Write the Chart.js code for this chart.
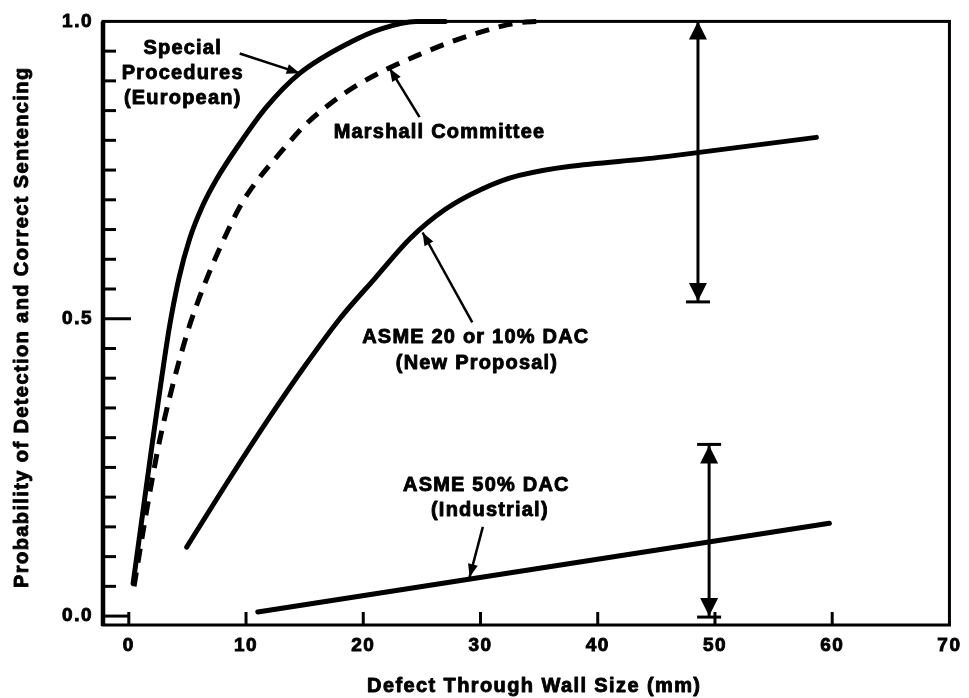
<!DOCTYPE html>
<html>
<head>
<meta charset="utf-8">
<script src="https://cdn.jsdelivr.net/npm/chart.js@4.4.1/dist/chart.umd.min.js"></script>
<style>
  html, body { margin: 0; padding: 0; background: #fff; }
  canvas { display: block; }
</style>
</head>
<body>
<canvas id="chart" width="969" height="698"></canvas>
<script>
(() => {
    'use strict';

    // ── Data (x = defect size in mm, y = probability) ──

    const europeanX = [0.37, 1.2, 2.0, 2.8, 3.5, 4.3, 5.2, 6.3, 7.5, 9.3, 11.7, 14.6, 18.9, 21.6, 24.5, 27.0];
    const europeanY = [0.055, 0.175, 0.29, 0.40, 0.49, 0.57, 0.635, 0.69, 0.735, 0.79, 0.855, 0.913, 0.965, 0.988, 1.0, 1.0];

    const marshallX = [0.45, 1.2, 1.93, 2.64, 3.64, 5.06, 6.05, 7.19, 8.33, 9.46, 10.6, 12.87, 15.0, 17.4, 19.5, 22.25, 25.0, 27.4, 30.0, 33.0, 35.0];
    const marshallY = [0.05, 0.14, 0.223, 0.296, 0.38, 0.481, 0.537, 0.593, 0.643, 0.688, 0.723, 0.778, 0.825, 0.865, 0.893, 0.922, 0.946, 0.965, 0.982, 0.997, 1.0];

    const proposalX = [4.94, 8.5, 12.0, 15.0, 18.0, 21.0, 24.0, 27.0, 30.0, 33.3, 46.0, 58.65];
    const proposalY = [0.116, 0.228, 0.334, 0.42, 0.50, 0.568, 0.635, 0.684, 0.717, 0.741, 0.773, 0.805];

    const industrialX = [11.0, 59.76];
    const industrialY = [0.007, 0.156];

    const xTicks = [0, 10, 20, 30, 40, 50, 60, 70];
    const yMajorTicks = [0.0, 0.5, 1.0];
    const yMinorTicks = [0.05, 0.1, 0.15, 0.2, 0.25, 0.3, 0.35, 0.4, 0.45,
        0.55, 0.6, 0.65, 0.7, 0.75, 0.8, 0.85, 0.9, 0.95];

    // Scatter bands (double arrows) near 50 mm.
    const bandX = [48.55, 49.5];
    const bandLow = [0.53, 0.0];
    const bandHigh = [1.0, 0.287];

    // ── Annotations (data units) ──────────────────────────────────────────────

    const labels = [
        { text: 'Special', x: 4.6, y: 0.955 },
        { text: 'Procedures', x: 4.6, y: 0.913 },
        { text: '(European)', x: 4.6, y: 0.871 },
        { text: 'Marshall Committee', x: 26.5, y: 0.813 },
        { text: 'ASME 20 or 10% DAC', x: 29.6, y: 0.469 },
        { text: '(New Proposal)', x: 29.7, y: 0.425 },
        { text: 'ASME 50% DAC', x: 30.5, y: 0.22 },
        { text: '(Industrial)', x: 30.8, y: 0.178 },
    ];

    const pointers = [
        { from: [9.46, 0.946], to: [14.58, 0.913] },
        { from: [24.8, 0.839], to: [22.25, 0.921] },
        { from: [29.3, 0.494], to: [25.06, 0.645] },
        { from: [30.2, 0.150], to: [29.07, 0.0655] },
    ];

    const X_TITLE = 'Defect Through Wall Size (mm)';
    const Y_TITLE = 'Probability of Detection and Correct Sentencing';

    const FONT = '"Liberation Sans", Arial, Helvetica, sans-serif';

    const zip = (xs, ys) => xs.map((x, i) => ({ x, y: ys[i] }));

    const lineSet = (label, xs, ys, extra = {}) => ({
        label,
        data: zip(xs, ys),
        showLine: true,
        borderColor: '#000',
        borderWidth: 5,
        pointRadius: 0,
        fill: false,
        cubicInterpolationMode: 'monotone',
        borderCapStyle: 'round',
        clip: 8,
        ...extra,
    });

    // ── Drawing helpers ───────────────────────────────────────────────────────

    const seg = (ctx, x1, y1, x2, y2) => {
        ctx.beginPath();
        ctx.moveTo(x1, y1);
        ctx.lineTo(x2, y2);
        ctx.stroke();
    };

    const head = (ctx, tx, ty, fx, fy, len, half) => {
        const a = Math.atan2(ty - fy, tx - fx);
        const bx = tx - len * Math.cos(a), by = ty - len * Math.sin(a);
        ctx.beginPath();
        ctx.moveTo(tx, ty);
        ctx.lineTo(bx + half * Math.sin(a), by - half * Math.cos(a));
        ctx.lineTo(bx - half * Math.sin(a), by + half * Math.cos(a));
        ctx.closePath();
        ctx.fill();
    };

    // Bold text with a thin outline, to match the heavy print of the scan.
    const heavyText = (ctx, text, x, y) => {
        ctx.fillText(text, x, y);
        ctx.strokeText(text, x, y);
    };

    const overlay = {
        id: 'overlay',
        beforeDraw(chart) {
            chart.ctx.letterSpacing = '1.5px';
        },
        afterDatasetsDraw(chart) {
            const { ctx, chartArea: a, scales: { x, y } } = chart;
            const px = v => x.getPixelForValue(v);
            const py = v => y.getPixelForValue(v);

            ctx.save();
            ctx.strokeStyle = '#000';
            ctx.fillStyle = '#000';
            ctx.lineCap = 'butt';

            // frame
            ctx.lineWidth = 3;
            ctx.strokeRect(a.left, a.top, a.right - a.left, a.bottom - a.top);
            ctx.lineWidth = 4.5;
            seg(ctx, a.left, a.top, a.left, a.bottom + 1);

            // inward ticks
            ctx.lineWidth = 3;
            yMinorTicks.forEach(v => seg(ctx, a.left, py(v), a.left + 13, py(v)));
            seg(ctx, a.left, py(0.5), a.left + 28, py(0.5));
            seg(ctx, a.left, py(0), px(0), py(0));
            xTicks.filter(v => v < 70).forEach(v => seg(ctx, px(v), a.bottom, px(v), a.bottom - 13));

            // double arrows with end bars
            bandX.forEach((bx, i) => {
                const X = px(bx), lo = py(bandLow[i]), hi = py(bandHigh[i]);
                ctx.lineWidth = 3;
                seg(ctx, X, lo, X, hi);
                head(ctx, X, hi, X, lo, 18, 9);
                head(ctx, X, lo, X, hi, 18, 9);
                seg(ctx, X - 12, lo + 1, X + 12, lo + 1);
                if (bandHigh[i] < 1) seg(ctx, X - 12, hi - 1, X + 12, hi - 1);
            });

            // pointer arrows
            ctx.lineWidth = 2.5;
            pointers.forEach(p => {
                const fx = px(p.from[0]), fy = py(p.from[1]);
                const tx = px(p.to[0]), ty = py(p.to[1]);
                seg(ctx, fx, fy, tx, ty);
                head(ctx, tx, ty, fx, fy, 13, 5);
            });

            // curve labels
            ctx.lineWidth = 0.9;
            ctx.lineJoin = 'round';
            ctx.letterSpacing = '1.2px';
            ctx.font = `bold 20px ${FONT}`;
            ctx.textAlign = 'center';
            ctx.textBaseline = 'middle';
            labels.forEach(l => heavyText(ctx, l.text, px(l.x), py(l.y)));

            // axis titles
            ctx.letterSpacing = '1.4px';
            heavyText(ctx, X_TITLE, (a.left + a.right) / 2 + 8, chart.height - 12);
            ctx.translate(22, (a.top + a.bottom) / 2 + 4);
            ctx.rotate(-Math.PI / 2);
            heavyText(ctx, Y_TITLE, 0, 0);
            ctx.restore();
        },
    };

    // ── Chart ─────────────────────────────────────────────────────────────────

    const tickFont = { family: FONT, size: 19, weight: 'bold' };

    new Chart(document.getElementById('chart').getContext('2d'), {
        type: 'scatter',
        data: {
            datasets: [
                lineSet('Special Procedures (European)', europeanX, europeanY),
                lineSet('Marshall Committee', marshallX, marshallY, { borderDash: [14, 10], borderCapStyle: 'butt' }),
                lineSet('ASME 20 or 10% DAC (New Proposal)', proposalX, proposalY),
                lineSet('ASME 50% DAC (Industrial)', industrialX, industrialY, { cubicInterpolationMode: 'default', tension: 0 }),
            ],
        },
        options: {
            responsive: false,
            animation: false,
            layout: { padding: { top: 21, right: 19, left: 0, bottom: 0 } },
            plugins: { legend: { display: false }, tooltip: { enabled: false } },
            scales: {
                x: {
                    type: 'linear',
                    min: -2.2,
                    max: 70,
                    afterBuildTicks: s => { s.ticks = xTicks.map(value => ({ value })); },
                    afterFit: s => { s.height = 73; },
                    grid: { display: false, drawTicks: false },
                    border: { display: false },
                    ticks: {
                        color: '#000', font: tickFont, padding: 9, autoSkip: false, maxRotation: 0,
                        textStrokeColor: '#000', textStrokeWidth: 0.9,
                        callback: v => String(v),
                    },
                },
                y: {
                    type: 'linear',
                    min: -0.015,
                    max: 1.0,
                    afterBuildTicks: s => { s.ticks = yMajorTicks.map(value => ({ value })); },
                    afterFit: s => { s.width = 103; },
                    grid: { display: false, drawTicks: false },
                    border: { display: false },
                    ticks: {
                        color: '#000', font: tickFont, padding: 10, autoSkip: false,
                        textStrokeColor: '#000', textStrokeWidth: 0.9,
                        callback: v => v.toFixed(1),
                    },
                },
            },
        },
        plugins: [overlay],
    });
})();
</script>
</body>
</html>
